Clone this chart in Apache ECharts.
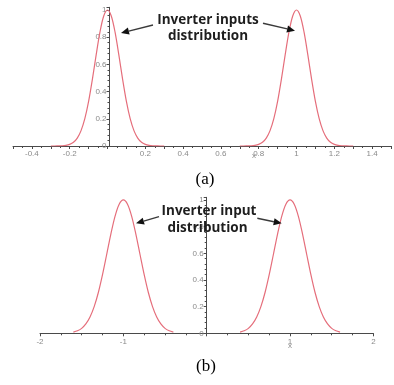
<!DOCTYPE html>
<html>
<head>
<meta charset="utf-8">
<script src="https://cdn.jsdelivr.net/npm/echarts@6/dist/echarts.min.js"></script>
<style>
html,body{margin:0;padding:0;background:#fff;}
#c{width:394px;height:385px;}
</style>
</head>
<body>
<div id="c"></div>
<script>
// ---- data ----
// (a) two narrow bell curves centred at 0 and 1
var topLeftX  = [-0.30,-0.28,-0.26,-0.24,-0.22,-0.20,-0.18,-0.16,-0.14,-0.12,-0.10,-0.08,-0.06,-0.04,-0.02,0,0.02,0.04,0.06,0.08,0.10,0.12,0.14,0.16,0.18,0.20,0.22,0.24,0.26,0.28,0.30];
var topRightX = [0.70,0.72,0.74,0.76,0.78,0.80,0.82,0.84,0.86,0.88,0.90,0.92,0.94,0.96,0.98,1,1.02,1.04,1.06,1.08,1.10,1.12,1.14,1.16,1.18,1.20,1.22,1.24,1.26,1.28,1.30];
var topY      = [0,0,0.001,0.002,0.005,0.012,0.027,0.058,0.113,0.201,0.328,0.490,0.670,0.837,0.956,1,0.956,0.837,0.670,0.490,0.328,0.201,0.113,0.058,0.027,0.012,0.005,0.002,0.001,0,0];
// (b) two wider bell curves centred at -1 and 1
var botLeftX  = [-1.60,-1.55,-1.50,-1.45,-1.40,-1.35,-1.30,-1.25,-1.20,-1.15,-1.10,-1.05,-1.00,-0.95,-0.90,-0.85,-0.80,-0.75,-0.70,-0.65,-0.60,-0.55,-0.50,-0.45,-0.40];
var botRightX = [0.40,0.45,0.50,0.55,0.60,0.65,0.70,0.75,0.80,0.85,0.90,0.95,1.00,1.05,1.10,1.15,1.20,1.25,1.30,1.35,1.40,1.45,1.50,1.55,1.60];
var botY      = [0.009,0.019,0.037,0.070,0.122,0.200,0.306,0.440,0.591,0.744,0.877,0.968,1,0.968,0.877,0.744,0.591,0.440,0.306,0.200,0.122,0.070,0.037,0.019,0.009];
// axis ranges
var topXRange = [-0.5, 1.5];
var botXRange = [-2, 2];
// tick labels
var topXLabels = ['-0.4','-0.2','0.2','0.4','0.6','0.8','1','1.2','1.4'];
var topYLabels = ['0','0.2','0.4','0.6','0.8','1'];
var botXLabels = ['-2','-1','1','2'];
var botYLabels = ['0','0.2','0.4','0.6','0.8','1'];
// annotations
var topNote = ['Inverter inputs','distribution'];
var botNote = ['Inverter input','distribution'];
var captions = ['(a)','(b)'];

function pairs(xs, ys){ return xs.map(function(x,i){ return [x, ys[i]]; }); }
function fmt(list){ return function(v){ var s = String(Math.round(v*100)/100); return list.indexOf(s) >= 0 ? s : ''; }; }

var axisColor = '#4a4a4a';
var labelColor = '#8a8a8a';
var curveColor = '#e56e7b';

var grids = [
  {left:13, top:7.3, width:386, height:138.7},
  {left:40, top:197.3, width:333.4, height:136}
];

function xAxis(grid, range, interval, minorSplit, labels){
  return {
    type:'value', gridIndex:grid, min:range[0], max:range[1], interval:interval,
    axisLine:{show:true, onZero:false, lineStyle:{color:axisColor, width:1}},
    axisTick:{show:true, length:3, lineStyle:{color:axisColor}},
    minorTick:{show:true, splitNumber:minorSplit, length:2, lineStyle:{color:axisColor}},
    splitLine:{show:false}, minorSplitLine:{show:false},
    axisLabel:{formatter:fmt(labels), color:labelColor, fontSize:8, margin:4, fontFamily:'Liberation Sans', showMinLabel:true, showMaxLabel:true}
  };
}
function yAxis(grid, max, labels, xRange){
  // place the y axis at x = 0 of its grid
  var off = -(0 - xRange[0]) / (xRange[1] - xRange[0]) * grids[grid].width;
  return {
    type:'value', gridIndex:grid, min:0, max:max, interval:0.2, position:'left', offset:off,
    axisLine:{show:true, onZero:false, lineStyle:{color:axisColor, width:1}},
    axisTick:{show:true, length:3, lineStyle:{color:axisColor}},
    minorTick:{show:true, splitNumber:5, length:2, lineStyle:{color:axisColor}},
    splitLine:{show:false}, minorSplitLine:{show:false},
    axisLabel:{formatter:fmt(labels), color:labelColor, fontSize:8, margin:3, fontFamily:'Liberation Sans'}
  };
}
function curve(xi, yi, data){
  return {type:'line', xAxisIndex:xi, yAxisIndex:yi, data:data, smooth:0.3, showSymbol:false, symbol:'none',
    lineStyle:{color:curveColor, width:1.2}, itemStyle:{color:curveColor}, z:5, silent:true, animation:false};
}

function arrow(x1,y1,x2,y2){
  var dx = x2-x1, dy = y2-y1, L = Math.sqrt(dx*dx+dy*dy), ux = dx/L, uy = dy/L;
  var hl = 8, hw = 3.6;
  var bx = x2-ux*hl, by = y2-uy*hl;
  return [
    {type:'line', shape:{x1:x1,y1:y1,x2:bx,y2:by}, style:{stroke:'#3a3a3a', lineWidth:1.4}, z:20},
    {type:'polygon', shape:{points:[[x2,y2],[bx-uy*hw,by+ux*hw],[bx+uy*hw,by-ux*hw]]}, style:{fill:'#111'}, z:20}
  ];
}
function note(text, cx, cy, sx){
  return {type:'text', x:cx, y:cy, scaleX:sx, z:30,
    style:{text:text, x:0, y:0, align:'center', verticalAlign:'middle', font:'bold 15px "Open Sans"', fill:'#1e1e1e'}};
}

var chart = echarts.init(document.getElementById('c'), null, {renderer:'canvas'});
var graphics = [
  note(topNote[0], 208, 20, 0.9), note(topNote[1], 208, 35.5, 0.9),
  note(botNote[0], 209, 211, 0.9), note(botNote[1], 207.5, 228, 0.9),
  {type:'text', x:205, y:180, z:30, style:{text:captions[0], x:0, y:0, align:'center', verticalAlign:'middle', font:'17px "Liberation Serif"', fill:'#000'}},
  {type:'text', x:206, y:367, z:30, style:{text:captions[1], x:0, y:0, align:'center', verticalAlign:'middle', font:'17px "Liberation Serif"', fill:'#000'}},
  {type:'text', x:254, y:156, z:30, style:{text:'x', x:0, y:0, align:'center', verticalAlign:'middle', font:'8px "Liberation Sans"', fill:labelColor}},
  {type:'text', x:290, y:346, z:30, style:{text:'x', x:0, y:0, align:'center', verticalAlign:'middle', font:'8px "Liberation Sans"', fill:labelColor}}
].concat(arrow(153,25,121,33), arrow(263,23.3,295,30.7), arrow(159,216.7,136,223.3), arrow(257.3,218.3,281.7,223.3));

chart.setOption({
  animation:false,
  backgroundColor:'#fff',
  grid:grids,
  xAxis:[
    xAxis(0, topXRange, 0.1, 2, topXLabels),
    xAxis(1, botXRange, 1, 4, botXLabels)
  ],
  yAxis:[
    yAxis(0, 1.02, topYLabels, topXRange),
    yAxis(1, 1.02, botYLabels, botXRange)
  ],
  series:[
    curve(0,0,pairs(topLeftX, topY)),
    curve(0,0,pairs(topRightX, topY)),
    curve(1,1,pairs(botLeftX, botY)),
    curve(1,1,pairs(botRightX, botY))
  ],
  graphic:graphics
});
</script>
</body>
</html>
